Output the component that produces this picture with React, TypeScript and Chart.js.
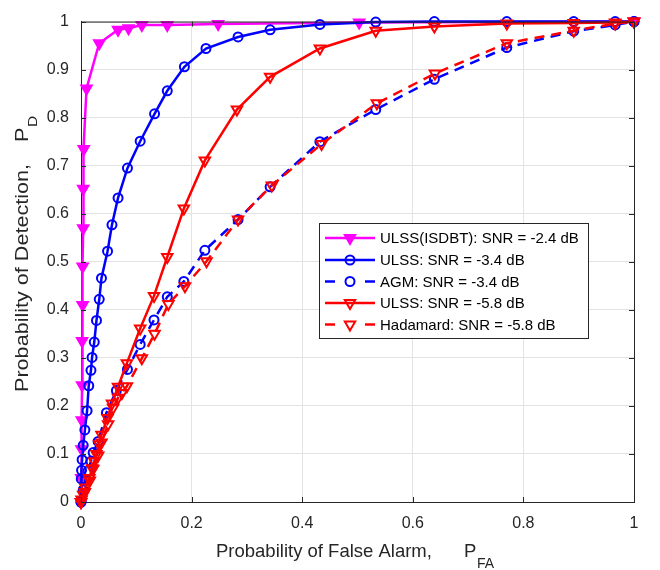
import React, { useEffect, useRef } from "react";
import { Chart, registerables } from "chart.js";

Chart.register(...registerables);

// ---- data ----
const seriesLabels = [
  "ULSS(ISDBT): SNR = -2.4 dB",
  "ULSS: SNR = -3.4 dB",
  "AGM: SNR = -3.4 dB",
  "ULSS: SNR = -5.8 dB",
  "Hadamard: SNR = -5.8 dB",
];

const isdbtX = [0, 0.0005, 0.001, 0.0015, 0.002, 0.002, 0.003, 0.003, 0.004, 0.004, 0.005, 0.01, 0.033, 0.067, 0.086, 0.11, 0.156, 0.248, 0.503, 1];
const isdbtY = [0, 0.05, 0.11, 0.17, 0.243, 0.335, 0.41, 0.49, 0.57, 0.652, 0.735, 0.861, 0.955, 0.983, 0.986, 0.993, 0.993, 0.995, 0.998, 1];

const ulss34X = [0, 0.0005, 0.001, 0.002, 0.004, 0.007, 0.011, 0.014, 0.018, 0.02, 0.024, 0.028, 0.033, 0.037, 0.048, 0.056, 0.067, 0.084, 0.107, 0.133, 0.156, 0.187, 0.226, 0.284, 0.342, 0.432, 0.533, 0.639, 0.77, 0.891, 0.966, 1];
const ulss34Y = [0, 0.048, 0.066, 0.088, 0.118, 0.15, 0.19, 0.242, 0.274, 0.301, 0.333, 0.378, 0.422, 0.466, 0.522, 0.577, 0.633, 0.695, 0.751, 0.808, 0.856, 0.906, 0.944, 0.968, 0.983, 0.994, 0.999, 1, 1, 1, 1, 1];

const agmX = [0, 0.004, 0.008, 0.013, 0.018, 0.022, 0.031, 0.046, 0.064, 0.084, 0.107, 0.132, 0.156, 0.186, 0.224, 0.284, 0.342, 0.432, 0.533, 0.639, 0.77, 0.891, 0.966, 1];
const agmY = [0, 0.025, 0.045, 0.065, 0.085, 0.103, 0.126, 0.186, 0.232, 0.276, 0.328, 0.379, 0.427, 0.459, 0.524, 0.588, 0.656, 0.75, 0.817, 0.88, 0.946, 0.98, 0.993, 1];

const ulss58X = [0, 0.001, 0.004, 0.008, 0.015, 0.02, 0.024, 0.028, 0.033, 0.037, 0.048, 0.056, 0.067, 0.083, 0.107, 0.132, 0.156, 0.186, 0.224, 0.282, 0.342, 0.432, 0.533, 0.639, 0.77, 0.891, 0.966, 1];
const ulss58Y = [0, 0.005, 0.015, 0.03, 0.05, 0.07, 0.085, 0.1, 0.12, 0.14, 0.175, 0.205, 0.24, 0.289, 0.361, 0.429, 0.51, 0.611, 0.711, 0.817, 0.885, 0.944, 0.981, 0.99, 0.996, 0.997, 0.998, 1];

const hadX = [0, 0.007, 0.016, 0.022, 0.031, 0.037, 0.049, 0.058, 0.067, 0.074, 0.083, 0.11, 0.133, 0.158, 0.188, 0.227, 0.284, 0.345, 0.435, 0.535, 0.64, 0.77, 0.891, 0.966, 1];
const hadY = [0, 0.021, 0.045, 0.069, 0.097, 0.124, 0.162, 0.196, 0.217, 0.227, 0.241, 0.299, 0.35, 0.412, 0.449, 0.501, 0.588, 0.659, 0.745, 0.83, 0.892, 0.955, 0.981, 0.996, 1];

const xTicks = [0, 0.2, 0.4, 0.6, 0.8, 1];
const yTicks = [0, 0.1, 0.2, 0.3, 0.4, 0.5, 0.6, 0.7, 0.8, 0.9, 1];

const xTitle = "Probability of False Alarm,";
const xTitleSym = "P";
const xTitleSub = "FA";
const yTitle = "Probability of Detection,";
const yTitleSym = "P";
const yTitleSub = "D";

// ---- styles ----
const FONT = "'Liberation Sans', Arial, Helvetica, sans-serif";
const AXIS_COLOR = "#262626";
const GRID_COLOR = "#e3e3e3";

type Style = { color: string; dash: number[]; marker: "tri" | "circ"; fill: boolean };
const styles: Style[] = [
  { color: "#ff00ff", dash: [], marker: "tri", fill: true },
  { color: "#0000ff", dash: [], marker: "circ", fill: false },
  { color: "#0000ff", dash: [10, 7], marker: "circ", fill: false },
  { color: "#ff0000", dash: [], marker: "tri", fill: false },
  { color: "#ff0000", dash: [10, 7], marker: "tri", fill: false },
];

const seriesX = [isdbtX, ulss34X, agmX, ulss58X, hadX];
const seriesY = [isdbtY, ulss34Y, agmY, ulss58Y, hadY];

function drawMarker(ctx: CanvasRenderingContext2D, s: Style, cx: number, cy: number) {
  ctx.save();
  ctx.setLineDash([]);
  ctx.lineWidth = 2;
  ctx.strokeStyle = s.color;
  ctx.fillStyle = s.color;
  ctx.beginPath();
  if (s.marker === "circ") {
    ctx.arc(cx, cy, 4.5, 0, Math.PI * 2);
  } else {
    const r = 6;
    for (let k = 0; k < 3; k++) {
      const a = Math.PI + (k * 2 * Math.PI) / 3;
      const px = cx + Math.sin(a) * r;
      const py = cy - Math.cos(a) * r;
      if (k === 0) ctx.moveTo(px, py);
      else ctx.lineTo(px, py);
    }
    ctx.closePath();
  }
  if (s.fill) ctx.fill();
  ctx.stroke();
  ctx.restore();
}

const decorPlugin = {
  id: "decor",
  afterDraw(chart: any) {
    const ctx: CanvasRenderingContext2D = chart.ctx;
    const { left, right, top, bottom } = chart.chartArea;
    const xs = chart.scales.x;
    const ys = chart.scales.y;
    ctx.save();
    // box
    ctx.strokeStyle = AXIS_COLOR;
    ctx.lineWidth = 1;
    ctx.setLineDash([]);
    ctx.beginPath();
    ctx.moveTo(left, top + 0.5);
    ctx.lineTo(right + 0.5, top + 0.5);
    ctx.lineTo(right + 0.5, bottom);
    ctx.stroke();
    // inner ticks
    ctx.beginPath();
    xTicks.forEach((v) => {
      const p = Math.round(xs.getPixelForValue(v)) + 0.5;
      ctx.moveTo(p, bottom);
      ctx.lineTo(p, bottom - 5);
      ctx.moveTo(p, top);
      ctx.lineTo(p, top + 5);
    });
    yTicks.forEach((v) => {
      const p = Math.round(ys.getPixelForValue(v)) + 0.5;
      ctx.moveTo(left, p);
      ctx.lineTo(left + 5, p);
      ctx.moveTo(right, p);
      ctx.lineTo(right - 5, p);
    });
    ctx.stroke();

    // x title
    ctx.fillStyle = AXIS_COLOR;
    ctx.textBaseline = "alphabetic";
    ctx.textAlign = "left";
    ctx.font = `18.5px ${FONT}`;
    ctx.fillText(xTitle, 216, 557);
    ctx.fillText(xTitleSym, 464, 557);
    ctx.font = `14px ${FONT}`;
    ctx.fillText(xTitleSub, 477, 568);

    // y title (rotated)
    ctx.save();
    ctx.translate(28, 392);
    ctx.rotate(-Math.PI / 2);
    ctx.scale(1.2, 1);
    ctx.font = `18px ${FONT}`;
    ctx.fillText(yTitle, 0, 0);
    ctx.fillText(yTitleSym, (392 - 142) / 1.2, 0);
    ctx.font = `13px ${FONT}`;
    ctx.fillText(yTitleSub, (392 - 127) / 1.2, 9);
    ctx.restore();

    // legend
    const lx = 319.5, ly = 223.5, lw = 269, lh = 115;
    ctx.fillStyle = "#ffffff";
    ctx.fillRect(lx, ly, lw, lh);
    ctx.strokeStyle = AXIS_COLOR;
    ctx.lineWidth = 1;
    ctx.strokeRect(lx, ly, lw, lh);
    const rows = [238, 260, 281.5, 303, 324.5];
    seriesLabels.forEach((lab, i) => {
      const s = styles[i];
      const cy = rows[i];
      ctx.save();
      ctx.strokeStyle = s.color;
      ctx.lineWidth = 2.5;
      ctx.setLineDash(s.dash);
      ctx.beginPath();
      if (s.dash.length) {
        ctx.moveTo(325, cy);
        ctx.lineTo(335, cy);
        ctx.moveTo(365, cy);
        ctx.lineTo(375, cy);
        ctx.setLineDash([]);
      } else {
        ctx.moveTo(325, cy);
        ctx.lineTo(375, cy);
      }
      ctx.stroke();
      ctx.restore();
      drawMarker(ctx, s, 350, cy);
      ctx.fillStyle = "#000000";
      ctx.font = `15px ${FONT}`;
      ctx.textBaseline = "middle";
      ctx.fillText(lab, 380, cy + 1);
    });
    ctx.restore();
  },
};

export default function App() {
  const ref = useRef<HTMLCanvasElement | null>(null);
  useEffect(() => {
    if (!ref.current) return;
    const datasets = seriesLabels.map((lab, i) => {
      const s = styles[i];
      return {
        label: lab,
        data: seriesX[i].map((x, j) => ({ x, y: seriesY[i][j] })),
        borderColor: s.color,
        backgroundColor: s.fill ? s.color : "rgba(0,0,0,0)",
        borderWidth: 2.5,
        borderDash: s.dash,
        pointStyle: s.marker === "tri" ? "triangle" : "circle",
        pointRotation: s.marker === "tri" ? 180 : 0,
        pointRadius: s.marker === "tri" ? 6 : 4.5,
        pointBorderWidth: 2,
        pointBorderColor: s.color,
        pointBackgroundColor: s.fill ? s.color : "rgba(0,0,0,0)",
        showLine: true,
        fill: false,
        tension: 0,
        clip: false as any,
        order: 5 - i,
      };
    });
    const chart = new Chart(ref.current, {
      type: "line",
      data: { datasets },
      options: {
        responsive: false,
        animation: false,
        layout: { padding: { top: 16, right: 26, left: 0, bottom: 0 } },
        plugins: { legend: { display: false }, tooltip: { enabled: false } },
        scales: {
          x: {
            type: "linear",
            min: 0,
            max: 1,
            afterBuildTicks: (sc: any) => {
              sc.ticks = xTicks.map((v) => ({ value: v }));
            },
            afterFit: (sc: any) => {
              sc.height = 68;
            },
            ticks: {
              font: { family: FONT, size: 16 },
              color: AXIS_COLOR,
              padding: 12,
              maxRotation: 0,
              callback: (v: any) => String(Number(Number(v).toFixed(1))),
            },
            grid: { color: GRID_COLOR, drawTicks: false, lineWidth: 1 },
            border: { color: AXIS_COLOR, width: 1 },
          },
          y: {
            type: "linear",
            min: 0,
            max: 1,
            afterBuildTicks: (sc: any) => {
              sc.ticks = yTicks.map((v) => ({ value: v }));
            },
            afterFit: (sc: any) => {
              sc.width = 81;
            },
            ticks: {
              font: { family: FONT, size: 16 },
              color: AXIS_COLOR,
              padding: 12,
              callback: (v: any) => String(Number(Number(v).toFixed(1))),
            },
            grid: { color: GRID_COLOR, drawTicks: false, lineWidth: 1 },
            border: { color: AXIS_COLOR, width: 1 },
          },
        },
      } as any,
      plugins: [decorPlugin],
    });
    return () => chart.destroy();
  }, []);
  return (
    <div style={{ position: "absolute", left: 0, top: 0, width: 660, height: 570, background: "#fff" }}>
      <canvas ref={ref} width={660} height={570} style={{ width: 660, height: 570, display: "block" }} />
    </div>
  );
}
